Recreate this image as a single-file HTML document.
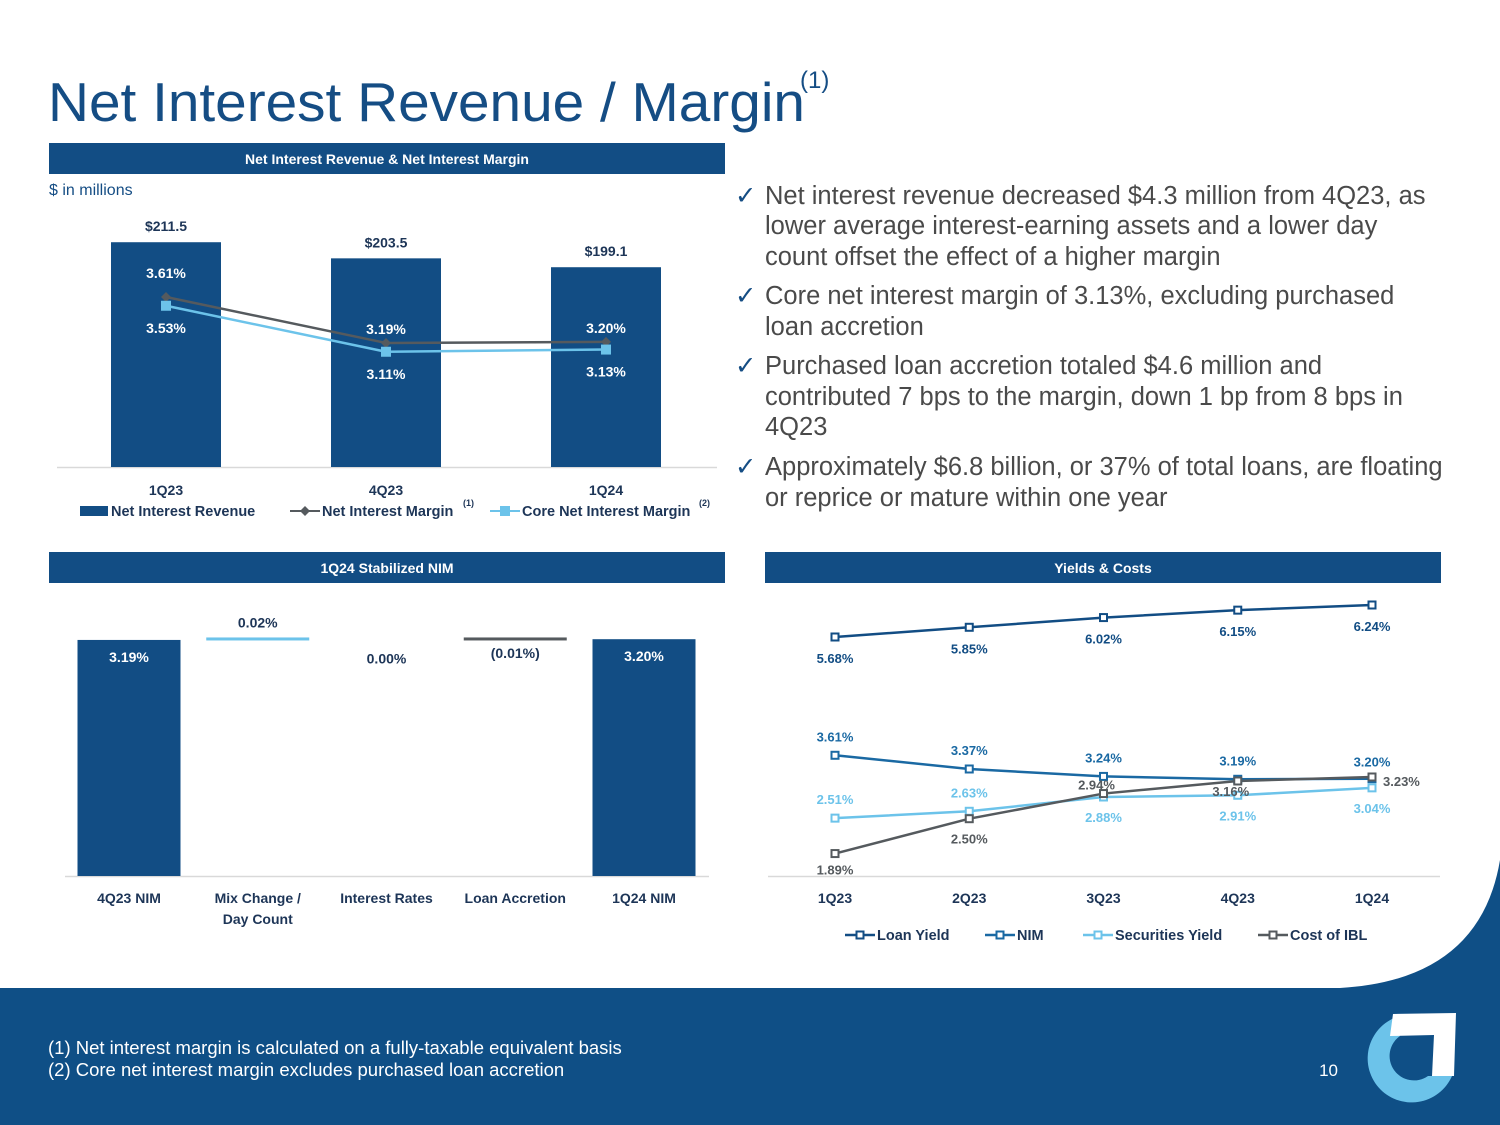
<!DOCTYPE html>
<html><head><meta charset="utf-8">
<style>
html,body{margin:0;padding:0;background:#fff;}
body{width:1500px;height:1125px;overflow:hidden;position:relative;font-family:"Liberation Sans",sans-serif;}
svg{position:absolute;left:0;top:0;}
</style></head>
<body>
<svg id="page" width="1500" height="1125" viewBox="0 0 1500 1125" font-family="Liberation Sans, sans-serif">
  <path d="M0,988 L1340,988 Q1480,980 1500,860 L1500,1125 L0,1125 Z" fill="#0f4f86"/>
  <text x="48" y="121" font-size="55" fill="#154d84" textLength="757" lengthAdjust="spacingAndGlyphs">Net Interest Revenue / Margin</text>
  <text x="800" y="88" font-size="24" fill="#154d84">(1)</text>

  <rect x="49" y="143" width="676" height="31" fill="#124d84"/>
  <text x="387" y="164" font-size="14" font-weight="bold" fill="#fff" text-anchor="middle">Net Interest Revenue &amp; Net Interest Margin</text>
  <rect x="49" y="552" width="676" height="31" fill="#124d84"/>
  <text x="387" y="573" font-size="14" font-weight="bold" fill="#fff" text-anchor="middle">1Q24 Stabilized NIM</text>
  <rect x="765" y="552" width="676" height="31" fill="#124d84"/>
  <text x="1103" y="573" font-size="14" font-weight="bold" fill="#fff" text-anchor="middle">Yields &amp; Costs</text>
  <text x="49" y="195" font-size="16" fill="#154d84">$ in millions</text>

  <g font-size="25.5" fill="#4a4a4a">
    <text x="735" y="204" fill="#154d84">✓</text><text x="765" y="204">Net interest revenue decreased $4.3 million from 4Q23, as</text>
    <text x="765" y="234">lower average interest-earning assets and a lower day</text>
    <text x="765" y="265">count offset the effect of a higher margin</text>
    <text x="735" y="304" fill="#154d84">✓</text><text x="765" y="304">Core net interest margin of 3.13%, excluding purchased</text>
    <text x="765" y="335">loan accretion</text>
    <text x="735" y="374" fill="#154d84">✓</text><text x="765" y="374">Purchased loan accretion totaled $4.6 million and</text>
    <text x="765" y="405">contributed 7 bps to the margin, down 1 bp from 8 bps in</text>
    <text x="765" y="435">4Q23</text>
    <text x="735" y="475" fill="#154d84">✓</text><text x="765" y="475">Approximately $6.8 billion, or 37% of total loans, are floating</text>
    <text x="765" y="506">or reprice or mature within one year</text>
  </g>

  <g id="nirChart"></g>
  <g id="wfChart"></g>
  <g id="ycChart"></g>

  <text x="48" y="1054" font-size="18.5" fill="#fff">(1) Net interest margin is calculated on a fully-taxable equivalent basis</text>
  <text x="48" y="1076" font-size="18.5" fill="#fff">(2) Core net interest margin excludes purchased loan accretion</text>
  <text x="1338" y="1076" font-size="17" fill="#fff" text-anchor="end">10</text>
  <g>
    <path d="M1400,1016 A44,44 0 1 0 1452,1076 L1428,1076 A24,24 0 1 1 1400,1036 Z" fill="#6cc3ea"/>
    <path d="M1393,1014 L1456,1013 L1454,1076 L1432,1076 L1434,1035 L1390,1036 Z" fill="#fff"/>
  </g>
</svg>
<script>
const NS='http://www.w3.org/2000/svg';
function mk(parent,tag,attrs,text){const e=document.createElementNS(NS,tag);for(const k in attrs)e.setAttribute(k,attrs[k]);if(text!==undefined)e.textContent=text;parent.appendChild(e);return e;}

const nirCategories=['1Q23','4Q23','1Q24'];
const nirValues=[211.5,203.5,199.1];
const nimValues=[3.61,3.19,3.20];
const coreNimValues=[3.53,3.11,3.13];

const wfCategories=['4Q23 NIM','Mix Change /|Day Count','Interest Rates','Loan Accretion','1Q24 NIM'];
const wfValues=[3.19,0.02,0.00,-0.01,3.20];
const wfLabels=['3.19%','0.02%','0.00%','(0.01%)','3.20%'];

const ycCategories=['1Q23','2Q23','3Q23','4Q23','1Q24'];
const loanYield=[5.68,5.85,6.02,6.15,6.24];
const nimSeries=[3.61,3.37,3.24,3.19,3.20];
const secYield=[2.51,2.63,2.88,2.91,3.04];
const costIBL=[1.89,2.50,2.94,3.16,3.23];

const NAVY='#124d84', LIGHT='#6cc3ea', GRAY='#555a5e', MID='#1a69a3';

(function(){
  const g=document.getElementById('nirChart');
  const xc=i=>166+i*220;
  const yb=v=>467-(v-100)*2.016;
  const yl=v=>297-(v-3.61)*109.5;
  mk(g,'line',{x1:57,y1:467.5,x2:717,y2:467.5,stroke:'#d9d9d9','stroke-width':1.5});
  nirValues.forEach((v,i)=>{
    const r=mk(g,'rect',{x:xc(i)-55,y:yb(v),width:110,height:467-yb(v),fill:NAVY});
    
    
    const t=mk(g,'text',{x:xc(i),y:yb(v)-11,'font-size':14,'font-weight':'bold',fill:'#1d3557','text-anchor':'middle'},'$'+v.toFixed(1));
    
    
    const c=mk(g,'text',{x:xc(i),y:495,'font-size':14,'font-weight':'bold',fill:'#1d3557','text-anchor':'middle'},nirCategories[i]);
    
    
  });
  const nimPts=nimValues.map((v,i)=>xc(i)+','+yl(v)).join(' ');
  const coreb=coreNimValues.map((v,i)=>xc(i)+','+yl(v)).join(' ');
  const l1=mk(g,'polyline',{points:nimPts,fill:'none',stroke:GRAY,'stroke-width':2.5});
  
  
  const l2=mk(g,'polyline',{points:coreb,fill:'none',stroke:LIGHT,'stroke-width':2.5});
  
  
  nimValues.forEach((v,i)=>{
    const x=xc(i),y=yl(v);
    const p=mk(g,'path',{d:`M${x},${y-5} L${x+5},${y} L${x},${y+5} L${x-5},${y} Z`,fill:GRAY});
    
    
    const t=mk(g,'text',{x:x,y:i==0?y-19:y-9,'font-size':14,'font-weight':'bold',fill:'#fff','text-anchor':'middle'},v.toFixed(2)+'%');
    
    
  });
  coreNimValues.forEach((v,i)=>{
    const x=xc(i),y=yl(v);
    const p=mk(g,'rect',{x:x-5,y:y-5,width:10,height:10,fill:LIGHT});
    
    
    const t=mk(g,'text',{x:x,y:y+27,'font-size':14,'font-weight':'bold',fill:'#fff','text-anchor':'middle'},v.toFixed(2)+'%');
    
    
  });
  const lg=mk(g,'g',{});
  
  
  mk(lg,'rect',{x:80,y:506,width:28,height:10,fill:NAVY});
  mk(lg,'text',{x:111,y:516,'font-size':14.5,'font-weight':'bold',fill:'#1d3557'},'Net Interest Revenue');
  mk(lg,'line',{x1:290,y1:511,x2:320,y2:511,stroke:GRAY,'stroke-width':2});
  mk(lg,'path',{d:'M305,506 L310,511 L305,516 L300,511 Z',fill:GRAY});
  mk(lg,'text',{x:322,y:516,'font-size':14.5,'font-weight':'bold',fill:'#1d3557'},'Net Interest Margin');
  mk(lg,'text',{x:463,y:506,'font-size':9,'font-weight':'bold',fill:'#1d3557'},'(1)');
  mk(lg,'line',{x1:490,y1:511,x2:520,y2:511,stroke:LIGHT,'stroke-width':2});
  mk(lg,'rect',{x:500,y:506,width:10,height:10,fill:LIGHT});
  mk(lg,'text',{x:522,y:516,'font-size':14.5,'font-weight':'bold',fill:'#1d3557'},'Core Net Interest Margin');
  mk(lg,'text',{x:699,y:506,'font-size':9,'font-weight':'bold',fill:'#1d3557'},'(2)');
})();

(function(){
  const g=document.getElementById('wfChart');
  const xc=i=>129+i*128.75;
  const y=v=>876-v*74;
  mk(g,'line',{x1:65,y1:876.5,x2:709,y2:876.5,stroke:'#d9d9d9','stroke-width':1.5});
  let run=0;
  wfValues.forEach((v,i)=>{
    const total=(i==0||i==wfValues.length-1);
    let top,bot,fill;
    if(total){top=y(v);bot=y(0);fill=NAVY;run=v;}
    else{const a=run,b=run+v;top=y(Math.max(a,b));bot=y(Math.min(a,b));run=b;fill=v>0?LIGHT:(v<0?GRAY:'none');}
    let h=bot-top;if(!total&&v!==0)h=Math.max(h,3);
    if(!(v===0&&!total)){
      const r=mk(g,'rect',{x:xc(i)-51.5,y:total?top:top-1,width:103,height:h,fill:fill});
      
      
    }
    let ly;
    if(total) ly=top+22; else if(v>0) ly=top-11; else if(v<0) ly=bot+19; else ly=y(run)+25;
    const t=mk(g,'text',{x:xc(i),y:ly,'font-size':14,'font-weight':'bold',fill:total?'#fff':'#1d3557','text-anchor':'middle'},wfLabels[i]);
    
    
    const parts=wfCategories[i].split('|');
    parts.forEach((p,k)=>{
      const c=mk(g,'text',{x:xc(i),y:903+k*21,'font-size':14,'font-weight':'bold',fill:'#1d3557','text-anchor':'middle'},p);
      
      
    });
  });
})();

(function(){
  const g=document.getElementById('ycChart');
  const xc=i=>835+i*134.25;
  const y=v=>637-(v-5.68)*57.14;
  mk(g,'line',{x1:768,y1:876.5,x2:1440,y2:876.5,stroke:'#d9d9d9','stroke-width':1.5});
  ycCategories.forEach((c,i)=>{
    const t=mk(g,'text',{x:xc(i),y:903,'font-size':14,'font-weight':'bold',fill:'#1d3557','text-anchor':'middle'},c);
    
    
  });
  const series=[
    {name:'loan-yield',vals:loanYield,color:NAVY,off:[21,21,21,21,21],lc:NAVY},
    {name:'nim',vals:nimSeries,color:MID,off:[-19,-19,-19,-19,-17],lc:MID},
    {name:'securities-yield',vals:secYield,color:LIGHT,off:[-19,-19,20,20,20],lc:LIGHT},
    {name:'cost-of-ibl',vals:costIBL,color:GRAY,off:[16,20,-9,10,4],lc:GRAY},
  ];
  series.forEach(s=>{
    const pl=mk(g,'polyline',{points:s.vals.map((v,i)=>xc(i)+','+y(v)).join(' '),fill:'none',stroke:s.color,'stroke-width':2.5});
    
    
  });
  series.forEach(s=>{
    s.vals.forEach((v,i)=>{
      const m=mk(g,'rect',{x:xc(i)-3.5,y:y(v)-3.5,width:7,height:7,fill:'#fff',stroke:s.color,'stroke-width':2});
      
      
      let lx=xc(i),anchor='middle';
      if(s.name==='cost-of-ibl'&&i===4){lx=xc(i)+11;anchor='start';}
      if(s.name==='cost-of-ibl'&&i===2){lx=xc(i)-7;}
      if(s.name==='cost-of-ibl'&&i===3){lx=xc(i)-7;}
      const t=mk(g,'text',{x:lx,y:y(v)+s.off[i]+5,'font-size':13,'font-weight':'bold',fill:s.lc,'text-anchor':anchor},v.toFixed(2)+'%');
      
      
    });
  });
  const lg=mk(g,'g',{});
  
  
  const L=[['Loan Yield',NAVY,845],['NIM',MID,985],['Securities Yield',LIGHT,1083],['Cost of IBL',GRAY,1258]];
  L.forEach(([n,c,x])=>{
    mk(lg,'line',{x1:x,y1:935,x2:x+30,y2:935,stroke:c,'stroke-width':2.5});
    mk(lg,'rect',{x:x+11.5,y:931.5,width:7,height:7,fill:'#fff',stroke:c,'stroke-width':2});
    mk(lg,'text',{x:x+32,y:940,'font-size':14.5,'font-weight':'bold',fill:'#1d3557'},n);
  });
})();
</script>
</body></html>
